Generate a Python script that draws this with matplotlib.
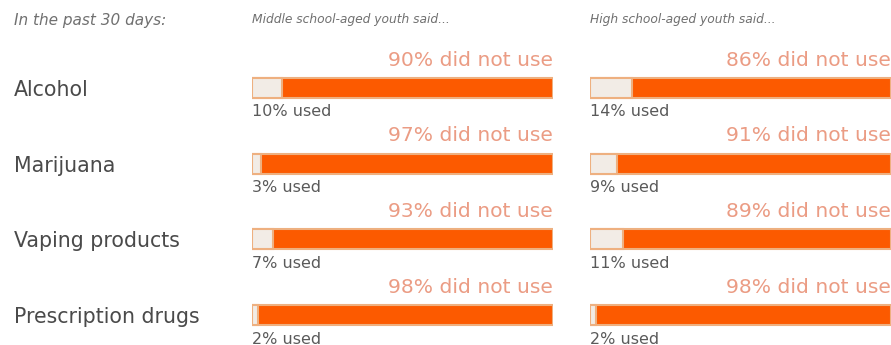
import matplotlib.pyplot as plt

substances = ["Alcohol", "Marijuana", "Vaping products", "Prescription drugs"]
middle_used = [10, 3, 7, 2]
high_used = [14, 9, 11, 2]
headers = ["Middle school-aged youth said...", "High school-aged youth said..."]

W, H = 891, 345
fig = plt.figure(figsize=(W / 100, H / 100), dpi=100)
plt.rcParams['font.family'] = ['DejaVu Sans']

orange = '#fc5a00'
edge = '#eeb080'
used_fill = '#f2ece6'
salmon = '#eb9c84'

row0, step = 88, 75.7
ylim = ((H - row0) / step, -row0 / step)
bar_h = 20 / step


def panel(x0, x1, used, title):
    ax = fig.add_axes([x0 / W, 0, (x1 - x0) / W, 1])
    ax.set_xlim(0, 100)
    ax.set_ylim(*ylim)
    ax.axis('off')
    ypos = list(range(len(used)))
    ax.barh(ypos, [100] * len(used), height=bar_h, color=orange,
            edgecolor=edge, linewidth=1.5)
    ax.barh(ypos, used, height=bar_h, color=used_fill,
            edgecolor=edge, linewidth=1.5)
    for y, u in zip(ypos, used):
        ax.text(100, y - 28 / step, f"{100 - u}% did not use", ha='right',
                va='center', color=salmon, fontsize=14.6)
        ax.text(0, y + 24 / step, f"{u}% used", ha='left', va='center',
                color='#5a5a5a', fontsize=11.5)
    fig.text(x0 / W, 1 - 20 / H, title, ha='left', va='center',
             color='#707070', fontsize=8.8, style='italic')


panel(252, 553, middle_used, headers[0])
panel(590, 891, high_used, headers[1])

fig.text(14 / W, 1 - 20 / H, "In the past 30 days:", ha='left', va='center',
         color='#707070', fontsize=11, style='italic')
for i, s in enumerate(substances):
    fig.text(14 / W, 1 - (row0 + 2 + step * i) / H, s, ha='left', va='center',
             color='#4a4a4a', fontsize=14.8)

fig.savefig('out.png', dpi=100)
